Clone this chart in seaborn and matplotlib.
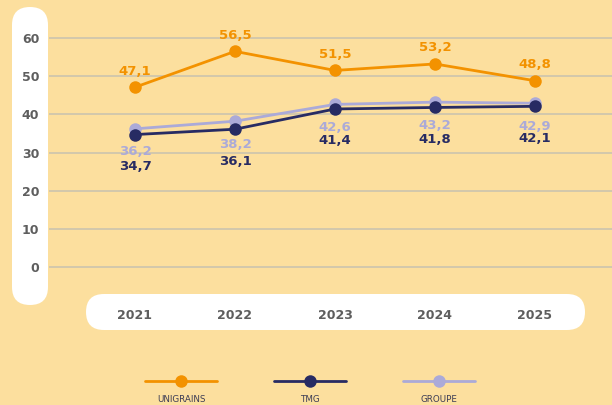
import pandas as pd
import numpy as np
import matplotlib
matplotlib.use("Agg")
import matplotlib.pyplot as plt
import seaborn as sns
from matplotlib.patches import FancyBboxPatch
from matplotlib.lines import Line2D
from matplotlib.transforms import IdentityTransform

# Data
years = [2021, 2022, 2023, 2024, 2025]
unigrains = [47.1, 56.5, 51.5, 53.2, 48.8]
tmg = [34.7, 36.1, 41.4, 41.8, 42.1]
groupe = [36.2, 38.2, 42.6, 43.2, 42.9]
series_names = ["UNIGRAINS", "TMG", "GROUPE"]
y_ticks = [0, 10, 20, 30, 40, 50, 60]

BG = "#FCDF9E"
ORANGE = "#F39200"
NAVY = "#272B63"
LAVENDER = "#ABAAD8"
GRID = "#CBC4AE"
TICK = "#5E5E5E"
colors = {"UNIGRAINS": ORANGE, "TMG": NAVY, "GROUPE": LAVENDER}

df = pd.DataFrame({
    "year": years * 3,
    "value": unigrains + tmg + groupe,
    "serie": [s for s in series_names for _ in years],
})

sns.set_style("white")
plt.rcParams["font.family"] = ["DejaVu Sans"]

W, H = 612, 405
fig = plt.figure(figsize=(W / 100, H / 100), dpi=100, facecolor=BG)

# white pills behind the tick labels (pixel coordinates, origin bottom-left)
for xy, w, h in [((12, H - 305), 36, 298), ((86, H - 330), 499, 36)]:
    pill = FancyBboxPatch(xy, w, h, boxstyle="round,pad=0,rounding_size=18",
                          transform=IdentityTransform(), fc="white", ec="none", zorder=-5)
    fig.patches.append(pill)

ax = fig.add_axes([49 / W, (H - 290) / H, (W - 49) / W, 290 / H])
ax.set_facecolor("none")
ax.set_zorder(2)

sns.lineplot(data=df, x="year", y="value", hue="serie", hue_order=["GROUPE", "TMG", "UNIGRAINS"],
             palette=colors, marker="o", markersize=9, markeredgewidth=0,
             linewidth=2, legend=False, ax=ax, zorder=3)

px_per_unit = 229 / 60
ax.set_ylim(0 - 23 / px_per_unit, 60 + 38 / px_per_unit)
ax.set_xlim(2021 - 0.86, 2025 + 0.77)
ax.set_yticks(y_ticks)
ax.set_xticks(years)
ax.set_xticklabels([str(y) for y in years])
ax.yaxis.grid(True, color=GRID, linewidth=1.2)
ax.xaxis.grid(False)
for s in ax.spines.values():
    s.set_visible(False)
ax.tick_params(axis="y", length=0, pad=7, labelsize=9, labelcolor=TICK)
ax.tick_params(axis="x", length=0, pad=14, labelsize=9, labelcolor=TICK)
for lab in ax.get_xticklabels() + ax.get_yticklabels():
    lab.set_fontweight("heavy")
ax.set_xlabel("")
ax.set_ylabel("")


def fmt(v):
    return f"{v:.1f}".replace(".", ",")


for x, v in zip(years, unigrains):
    ax.annotate(fmt(v), (x, v), xytext=(0, 16), textcoords="offset pixels",
                ha="center", va="center", fontsize=9.5, fontweight="bold", color=ORANGE)
for x, g, t in zip(years, groupe, tmg):
    ax.annotate(fmt(g), (x, g), xytext=(0, -23), textcoords="offset pixels",
                ha="center", va="center", fontsize=9.5, fontweight="bold", color=LAVENDER)
    ax.annotate(fmt(t), (x, t), xytext=(0, -32), textcoords="offset pixels",
                ha="center", va="center", fontsize=9.5, fontweight="bold", color=NAVY)

# custom legend: line with marker, label below
for cx, name in zip([181, 310, 439], series_names):
    c = colors[name]
    fig.add_artist(Line2D([cx - 36, cx + 36], [H - 381, H - 381], color=c, linewidth=2,
                          transform=IdentityTransform()))
    fig.add_artist(Line2D([cx], [H - 381], color=c, marker="o", markersize=9,
                          markeredgewidth=0, transform=IdentityTransform()))
    fig.text(cx / W, (H - 400) / H, name, ha="center", va="center", fontsize=6.3,
             color="#3C3C55")

fig.savefig("out.png", dpi=100, facecolor=BG)
